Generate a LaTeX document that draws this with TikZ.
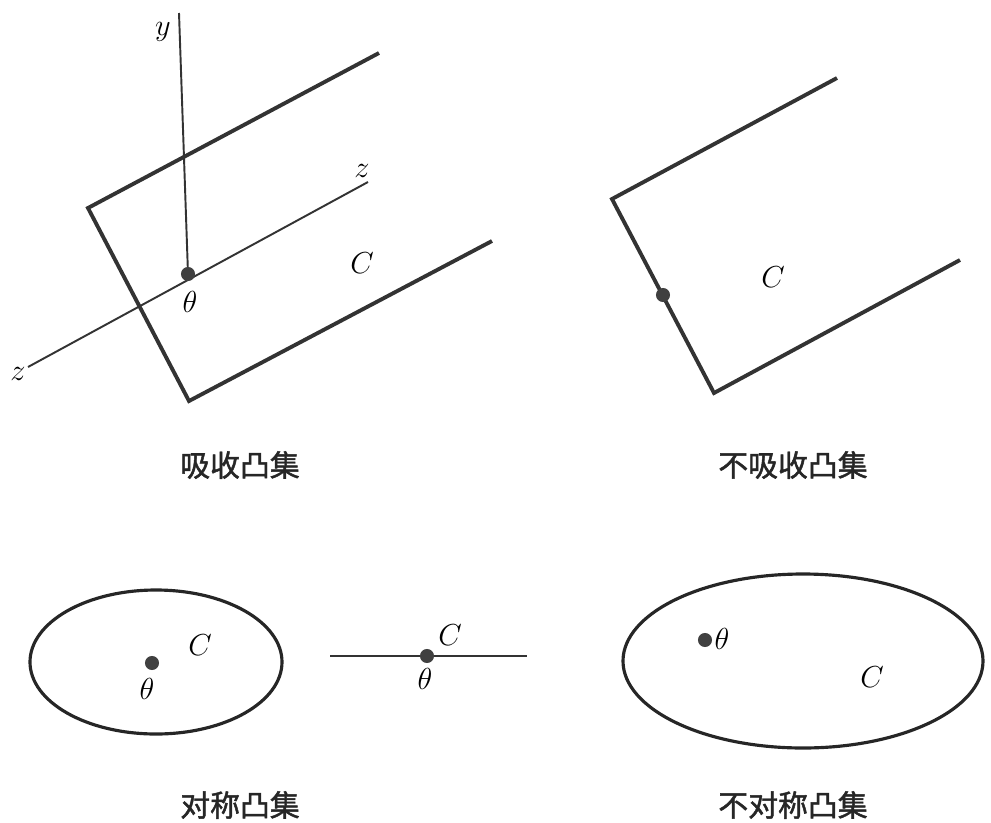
\documentclass[tikz,border=0pt]{standalone}
\usepackage{fontspec}
\newfontfamily\cjk{Noto Sans CJK SC}[FakeBold=1.6]
\begin{document}
\begin{tikzpicture}[x=0.02cm,y=-0.02cm,
  bound/.style={line width=2.2pt,draw=black!80,line join=miter},
  axis/.style={line width=1.1pt,draw=black!80},
  curve/.style={line width=1.8pt,draw=black!85},
  pt/.style={circle,fill=black!75,inner sep=0pt,minimum size=8pt},
  mlab/.style={inner sep=0pt,font=\fontsize{16}{18}\selectfont},
  caption/.style={inner sep=0pt,text=black!85,font=\cjk\fontsize{17}{20}\selectfont}]
\useasboundingbox (0,0) rectangle (991,822);
% ---- top left: absorbing
\coordinate (yt) at (179,13);
\coordinate (o1) at (188,274);
\coordinate (za) at (28,367);
\coordinate (zb) at (368,182);
\coordinate (a1) at (379,53);
\coordinate (a2) at (88,208);
\coordinate (a3) at (189,401);
\coordinate (a4) at (492,241);
\draw[bound] (a1) -- (a2) -- (a3) -- (a4);
\draw[axis] (yt) -- (o1);
\draw[axis] (za) -- (zb);
\node[pt] (d1) at (o1) {};
\node[mlab] (ly) at (163,32) {$y$};
\node[mlab] (lz1) at (362,171) {$z$};
\node[mlab] (lz2) at (18,374) {$z$};
\node[mlab] (lt1) at (190,302) {$\theta$};
\node[mlab] (lc1) at (362,263) {$C$};
\node[caption] (cap1) at (240,465) {吸收凸集};
% ---- top right: not absorbing
\coordinate (b1) at (837,78);
\coordinate (b2) at (612,199);
\coordinate (b3) at (714,393);
\coordinate (b4) at (960,260);
\draw[bound] (b1) -- (b2) -- (b3) -- (b4);
\node[pt] (d2) at (663,295) {};
\node[mlab] (lc2) at (773,277) {$C$};
\node[caption] (cap2) at (793,465) {不吸收凸集};
% ---- bottom left: symmetric
\draw[curve] (156,662) ellipse [x radius=126, y radius=72];
\node[pt] (d3) at (152,663) {};
\node[mlab] (lt3) at (147,689) {$\theta$};
\node[mlab] (lc3) at (200,645) {$C$};
\coordinate (s1) at (330,656);
\coordinate (s2) at (527,656);
\draw[axis] (s1) -- (s2);
\node[pt] (d4) at (427,656) {};
\node[mlab] (lc4) at (450,635) {$C$};
\node[mlab] (lt4) at (425,679) {$\theta$};
\node[caption] (cap3) at (240,805) {对称凸集};
% ---- bottom right: not symmetric
\draw[curve] (803,661) ellipse [x radius=180, y radius=87];
\node[pt] (d5) at (705,640) {};
\node[mlab] (lt5) at (722,639) {$\theta$};
\node[mlab] (lc5) at (872,677) {$C$};
\node[caption] (cap4) at (793,805) {不对称凸集};
\end{tikzpicture}
\end{document}
